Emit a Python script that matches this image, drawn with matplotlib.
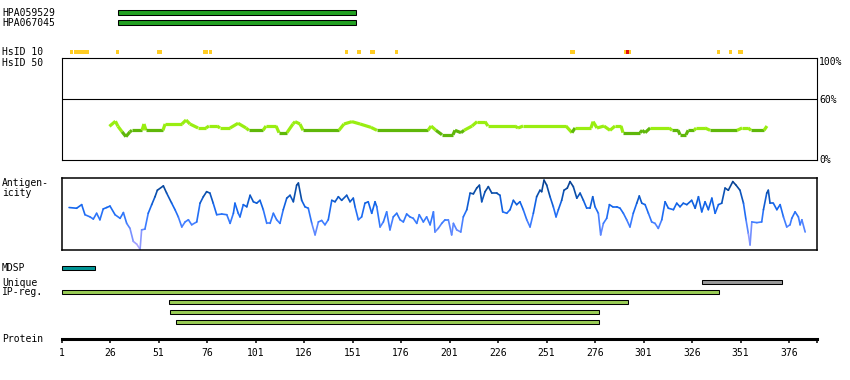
import numpy as np
import matplotlib
matplotlib.use('Agg')
import matplotlib.pyplot as plt
from matplotlib.collections import LineCollection
from matplotlib.colors import LinearSegmentedColormap

plt.rcParams['font.family'] = ['DejaVu Sans Mono', 'DejaVu Sans']
plt.rcParams['font.size'] = 7

# ---------------- data (residue positions) ----------------
PROT_END = 390.4

antibody_names = ['HPA059529', 'HPA067045']
antibody_start = [30.3, 30.3]
antibody_end = [152.6, 152.6]

hsid10_start = [5.4, 7.2, 29.1, 50.2, 74.0, 77.1, 147.1, 153.3, 160.0, 172.9,
                263.1, 291.0, 292.1, 293.5, 338.9, 345.1, 349.7]
hsid10_end = [6.8, 15.4, 30.5, 52.7, 76.4, 78.4, 148.5, 155.2, 162.5, 174.3,
              265.5, 292.1, 293.5, 294.5, 340.3, 346.5, 352.1]
hsid10_level = ['y', 'y', 'y', 'y', 'y', 'y', 'y', 'y', 'y', 'y',
                'y', 'y', 'r', 'y', 'y', 'y', 'y']

identity_pos = [25.7, 28.8, 30.1, 32.2, 34.2, 36.3, 37.3, 42.5, 43.5, 44.6,
                53.3, 54.4, 63.1, 65.2, 67.2, 71.4, 75.5, 77.0, 81.2, 82.7,
                87.9, 92.0, 96.1, 97.6, 104.9, 106.4, 111.6, 113.1, 117.2, 120.3,
                121.4, 123.9, 125.5, 144.0, 146.6, 150.7, 154.9, 160.5, 163.6, 189.9,
                191.5, 194.0, 197.1, 202.8, 203.8, 206.9, 208.5, 212.6, 215.2, 219.3,
                220.8, 234.7, 236.3, 238.9, 261.0, 264.1, 265.7, 273.9, 275.0, 277.0,
                280.6, 283.7, 286.3, 289.4, 290.4, 299.2, 300.3, 301.8, 304.4, 314.2,
                315.7, 318.8, 319.8, 322.9, 324.0, 327.1, 328.1, 332.7, 335.3, 349.2,
                351.8, 354.9, 356.4, 363.1, 364.6]
identity_pct = [33, 38, 33, 27.7, 22.9, 27.7, 29.1, 29.1, 35.3, 29.1,
                29.1, 35.3, 35.3, 39.2, 35.3, 31.4, 31.4, 33.3, 33.3, 31.4,
                31.4, 36, 31.4, 29.1, 29.1, 33.3, 33.3, 26.8, 26.8, 35.3,
                37.6, 35.3, 29.1, 29.1, 35.3, 37.6, 35.3, 32, 29.1, 29.1,
                33.3, 29.1, 24.8, 24.8, 29.1, 26.8, 29.1, 33.3, 37.6, 37.6,
                33.3, 33.3, 31.4, 33.3, 33.3, 26.8, 31.4, 31.4, 37.6, 31.4,
                33.3, 29.1, 33.3, 33.3, 26.8, 26.8, 29.1, 26.8, 31.4, 31.4,
                29.1, 29.1, 24.8, 24.8, 29.1, 29.1, 31.4, 31.4, 29.1, 29.1,
                31.4, 31.4, 29.1, 29.1, 33.3]

antigen_pos = [4.9, 8.8, 11.4, 13.1, 15.7, 17.4, 19.1, 20.8, 22.5, 24.3,
               26.0, 28.6, 31.2, 32.9, 34.6, 36.3, 38.0, 39.8, 41.5, 42.3,
               44.0, 45.7, 47.5, 49.2, 50.4, 53.5, 55.2, 57.8, 59.5, 61.2,
               63.0, 64.7, 66.4, 68.1, 70.7, 72.4, 74.1, 75.8, 77.5, 79.2,
               81.0, 83.6, 86.2, 87.9, 89.6, 90.4, 92.1, 93.0, 94.7, 96.5,
               98.2, 99.9, 101.6, 103.3, 105.0, 106.8, 108.5, 110.2, 111.9, 113.6,
               115.3, 117.1, 118.8, 120.5, 122.2, 123.1, 124.8, 126.5, 128.2, 130.0,
               131.7, 133.4, 135.1, 136.8, 138.5, 140.3, 142.0, 143.7, 145.4, 148.0,
               149.7, 151.4, 152.3, 154.0, 155.7, 157.4, 159.1, 160.9, 162.6, 163.5,
               165.2, 166.9, 168.6, 170.3, 172.0, 173.8, 175.5, 177.2, 178.9, 180.6,
               182.3, 184.1, 185.4, 187.5, 189.2, 191.0, 192.7, 193.5, 195.2, 197.0,
               198.7, 200.4, 202.1, 203.0, 204.7, 206.8, 208.1, 209.9, 211.6, 213.3,
               215.0, 216.4, 217.6, 219.3, 221.0, 222.8, 225.3, 227.0, 228.4, 230.5,
               232.2, 233.9, 235.6, 237.3, 239.0, 240.8, 242.5, 244.2, 245.9, 247.6,
               248.5, 249.7, 251.1, 252.8, 254.5, 255.9, 257.1, 258.8, 260.0, 261.7,
               263.1, 264.8, 266.6, 268.3, 270.0, 271.7, 273.4, 274.8, 276.0, 277.7,
               278.9, 280.3, 282.0, 283.4, 285.1, 287.2, 288.9, 290.6, 292.3, 294.0,
               295.7, 297.5, 298.8, 300.1, 301.8, 303.5, 305.2, 306.9, 308.6, 310.4,
               312.1, 313.8, 316.4, 318.1, 319.8, 321.5, 323.3, 325.8, 327.6, 329.3,
               331.0, 332.7, 334.4, 336.2, 337.9, 339.6, 341.3, 343.0, 344.7, 347.0,
               348.7, 350.7, 352.5, 353.8, 355.0, 355.9, 356.8, 359.4, 361.9, 362.8,
               364.5, 365.3, 366.2, 367.9, 369.7, 371.4, 373.1, 374.8, 376.5, 377.4,
               379.1, 380.8, 381.7, 382.6, 384.3]
antigen_score = [59, 58, 63, 49, 46, 43, 51, 42, 57, 59,
                 61, 49, 44, 52, 37, 30, 12, 8, 1, 28,
                 29, 51, 63, 74, 83, 89, 79, 65, 56, 46,
                 32, 39, 42, 35, 39, 65, 74, 81, 79, 65,
                 49, 50, 49, 37, 51, 65, 51, 46, 63, 60,
                 76, 67, 65, 69, 56, 37, 37, 51, 42, 37,
                 56, 72, 76, 67, 90, 93, 69, 60, 58, 37,
                 21, 39, 41, 35, 42, 69, 67, 74, 69, 76,
                 67, 72, 60, 42, 46, 65, 67, 51, 67, 60,
                 32, 39, 53, 28, 46, 51, 42, 39, 50, 46,
                 44, 37, 49, 39, 46, 35, 53, 25, 30, 37,
                 42, 42, 21, 37, 28, 25, 46, 56, 79, 78,
                 86, 90, 67, 81, 88, 79, 79, 76, 53, 51,
                 56, 69, 63, 67, 56, 42, 32, 51, 74, 83,
                 81, 97, 90, 74, 60, 46, 56, 69, 83, 86,
                 95, 88, 72, 79, 69, 58, 58, 74, 60, 51,
                 21, 37, 44, 63, 60, 60, 58, 51, 42, 32,
                 51, 65, 75, 65, 63, 51, 39, 37, 30, 42,
                 67, 58, 56, 65, 60, 65, 63, 69, 58, 74,
                 53, 67, 56, 72, 51, 63, 65, 86, 83, 95,
                 90, 83, 65, 42, 23, 7, 39, 38, 39, 56,
                 79, 83, 65, 65, 56, 63, 46, 32, 35, 44,
                 53, 46, 35, 42, 25]

mdsp_start, mdsp_end = [1.4], [18.4]
unique_start, unique_end = [331.3], [372.2]
ipreg_start = [1.4, 56.6, 57.1, 60.2]
ipreg_end = [340.0, 293.2, 278.2, 278.2]

tick_values = [1, 26, 51, 76, 101, 126, 151, 176, 201, 226, 251, 276, 301, 326, 351, 376]

# ---------------- layout (pixels) ----------------
W, H = 850, 380
X0_PX, PX_PER_AA = 61.5, 1.94
XR_PX = 817


def rect(x0, y0, x1, y1):
    return [x0 / W, 1 - y1 / H, (x1 - x0) / W, (y1 - y0) / H]


def ftext(x, y, s, **kw):
    fig.text(x / W, 1 - y / H, s, va='center', ha=kw.pop('ha', 'left'), **kw)


fig = plt.figure(figsize=(W / 100, H / 100), dpi=100)
fig.patch.set_facecolor('white')

# overlay axes for bar tracks (x in residues, y in pixel rows)
ov = fig.add_axes([0, 0, 1, 1])
ov.set_xlim(1 - X0_PX / PX_PER_AA, 1 + (W - X0_PX) / PX_PER_AA)
ov.set_ylim(H, 0)
ov.axis('off')
ov.set_zorder(5)
ov.patch.set_alpha(0)

# antibodies
ab_rows = [12.5, 22.5]
for name, s, e, yc in zip(antibody_names, antibody_start, antibody_end, ab_rows):
    ov.barh(yc, e - s, left=s, height=4.4, color='#22a022', edgecolor='black', linewidth=0.75)
    ftext(2, yc, name)

# HsID 10
colmap = {'y': '#ffcc22', 'r': '#e01010'}
for s, e, lv in zip(hsid10_start, hsid10_end, hsid10_level):
    ov.barh(52.2, e - s, left=s, height=4.4, color=colmap[lv], linewidth=0)
ftext(2, 52, 'HsID 10')
ftext(2, 62.5, 'HsID 50')

# MDSP / unique / IP-reg
ov.barh(267.8, mdsp_end[0] - mdsp_start[0], left=mdsp_start[0], height=4.6,
        color='#009595', edgecolor='black', linewidth=0.75)
ov.barh(282.3, unique_end[0] - unique_start[0], left=unique_start[0], height=4.0,
        color='#9a9a9a', edgecolor='black', linewidth=0.75)
for i, (s, e) in enumerate(zip(ipreg_start, ipreg_end)):
    ov.barh(292.2 + 10 * i, e - s, left=s, height=4.2, color='#99cc55',
            edgecolor='black', linewidth=0.75)
ftext(2, 268, 'MDSP')
ftext(2, 282.5, 'Unique')
ftext(2, 292, 'IP-reg.')
ftext(2, 339.5, 'Protein')

# identity track
ida = fig.add_axes(rect(X0_PX, 58, XR_PX, 160))
ida.set_xlim(1, PROT_END)
ida.set_ylim(0, 100)
ida.set_xticks([])
ida.set_yticks([])
for sp in ida.spines.values():
    sp.set_linewidth(0.8)
ida.axhline(60, color='black', lw=0.8)
pts = np.column_stack([identity_pos, identity_pct])
segs = np.stack([pts[:-1], pts[1:]], axis=1)
cols = ['#99ee11' if (a + b) / 2 >= 30 else '#5fb70a'
        for a, b in zip(identity_pct[:-1], identity_pct[1:])]
ida.add_collection(LineCollection(segs, colors=cols, linewidths=2.3, capstyle='butt'))
ftext(819, 62, '100%')
ftext(819, 100, '60%')
ftext(819, 160, '0%')

# antigenicity track
ag = fig.add_axes(rect(X0_PX, 178, XR_PX, 250))
ag.set_xlim(1, PROT_END)
ag.set_ylim(0, 100)
ag.set_xticks([])
ag.set_yticks([])
for sp in ag.spines.values():
    sp.set_linewidth(1.1)
spts = np.column_stack([antigen_pos, antigen_score])
ssegs = np.stack([spts[:-1], spts[1:]], axis=1)
svals = (spts[:-1, 1] + spts[1:, 1]) / 2
cmap = LinearSegmentedColormap.from_list(
    'ag', ['#b8a8ff', '#7c92ff', '#3b7cff', '#1366ee', '#0a4ea8', '#083c88'])
lc = LineCollection(ssegs, cmap=cmap, linewidths=1.2, capstyle='round')
lc.set_array(svals)
lc.set_clim(0, 100)
ag.add_collection(lc)
ftext(2, 182.5, 'Antigen-')
ftext(2, 193, 'icity')

# ruler
ru = fig.add_axes(rect(X0_PX, 337.5, XR_PX, 339.2))
ru.set_xlim(1, PROT_END)
ru.set_ylim(0, 1)
for k in ['top', 'left', 'right']:
    ru.spines[k].set_visible(False)
ru.spines['bottom'].set_linewidth(2.2)
ru.set_yticks([])
ru.set_xticks(tick_values + [PROT_END], [str(t) for t in tick_values] + [''])
ru.tick_params(axis='x', length=3.2, width=1.1, pad=3.0, labelsize=7)
ru.patch.set_alpha(0)

fig.savefig('out.png', dpi=100, facecolor='white')
